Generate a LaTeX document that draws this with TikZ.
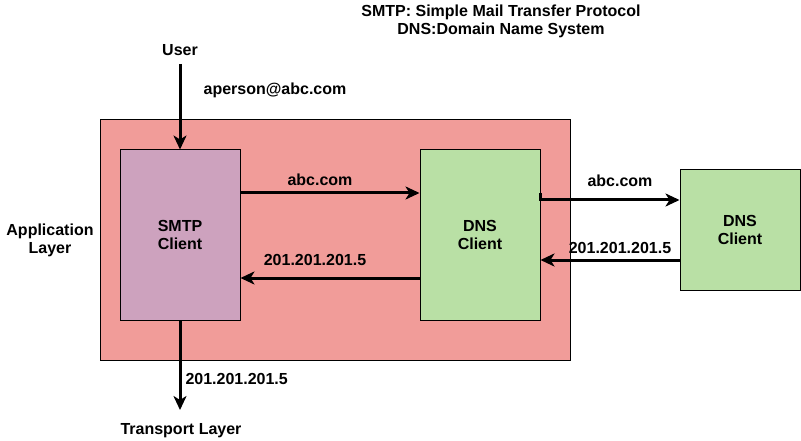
\documentclass[tikz,border=0pt]{standalone}
\usepackage{fontspec}
\setmainfont{Liberation Sans}
\usetikzlibrary{positioning, arrows.meta}

\definecolor{layerred}{HTML}{F19C99}
\definecolor{smtppurple}{HTML}{CDA2BE}
\definecolor{dnsgreen}{HTML}{B9E0A5}

\tikzset{
	txt/.style={font=\fontsize{16}{18}\selectfont\bfseries, align=center, inner sep=0pt},
	block/.style={draw=black, line width=1pt, rectangle, inner sep=0pt, txt},
	flow/.style={line width=3pt, -{Stealth[length=14pt, width=13pt, inset=4pt]}},
}

\begin{document}
\begin{tikzpicture}[x=1pt, y=-1pt]
	\useasboundingbox (0,0) rectangle (801,441);
	%diagram
	\node[block, minimum width=470pt, minimum height=240pt, fill=layerred] (layer) at (335,240) {};
	\node[block, minimum width=120pt, minimum height=170pt, fill=smtppurple] (smtp) at (180,235) {SMTP\\Client};
	\node[block, minimum width=120pt, minimum height=170pt, fill=dnsgreen] (dnsin) at (480,235) {DNS\\Client};
	\node[block, minimum width=120pt, minimum height=120pt, fill=dnsgreen] (dnsout) at (740,230) {DNS\\Client};
	%labels
	\node[txt] (title) at (501,21) {SMTP: Simple Mail Transfer Protocol\\DNS:Domain Name System};
	\node[txt] (user) at (180,50) {User};
	\node[txt] (mail) at (275,90) {aperson@abc.com};
	\node[txt] (applayer) at (50,240) {Application\\Layer};
	\node[txt] (translayer) at (181,431) {Transport Layer};
	\coordinate (usertop) at (180,64);
	\coordinate (transtop) at (180,410);
	%arrows
	\draw[flow] (usertop) -- (smtp.north);
	\draw[flow] ([yshift=42pt]smtp.east) -- node[txt, above=6pt, xshift=-10pt] (q1) {abc.com} ([yshift=42pt]dnsin.west);
	\draw[flow] ([yshift=-43pt]dnsin.west) -- node[txt, above=11pt, xshift=-15pt] (r1) {201.201.201.5} ([yshift=-43pt]smtp.east);
	\draw[flow] ([yshift=42pt]dnsin.east) -- ([yshift=35pt]dnsin.east) -- node[txt, above=12pt, xshift=10pt] (q2) {abc.com} ([yshift=30pt]dnsout.west);
	\draw[flow] ([yshift=-30pt]dnsout.west) -- node[txt, above=5pt, xshift=10pt] (r2) {201.201.201.5} ([yshift=-25pt]dnsin.east);
	\draw[flow] (smtp.south) -- node[txt, right=4pt, pos=0.65] (r3) {201.201.201.5} (transtop);
\end{tikzpicture}
\end{document}
